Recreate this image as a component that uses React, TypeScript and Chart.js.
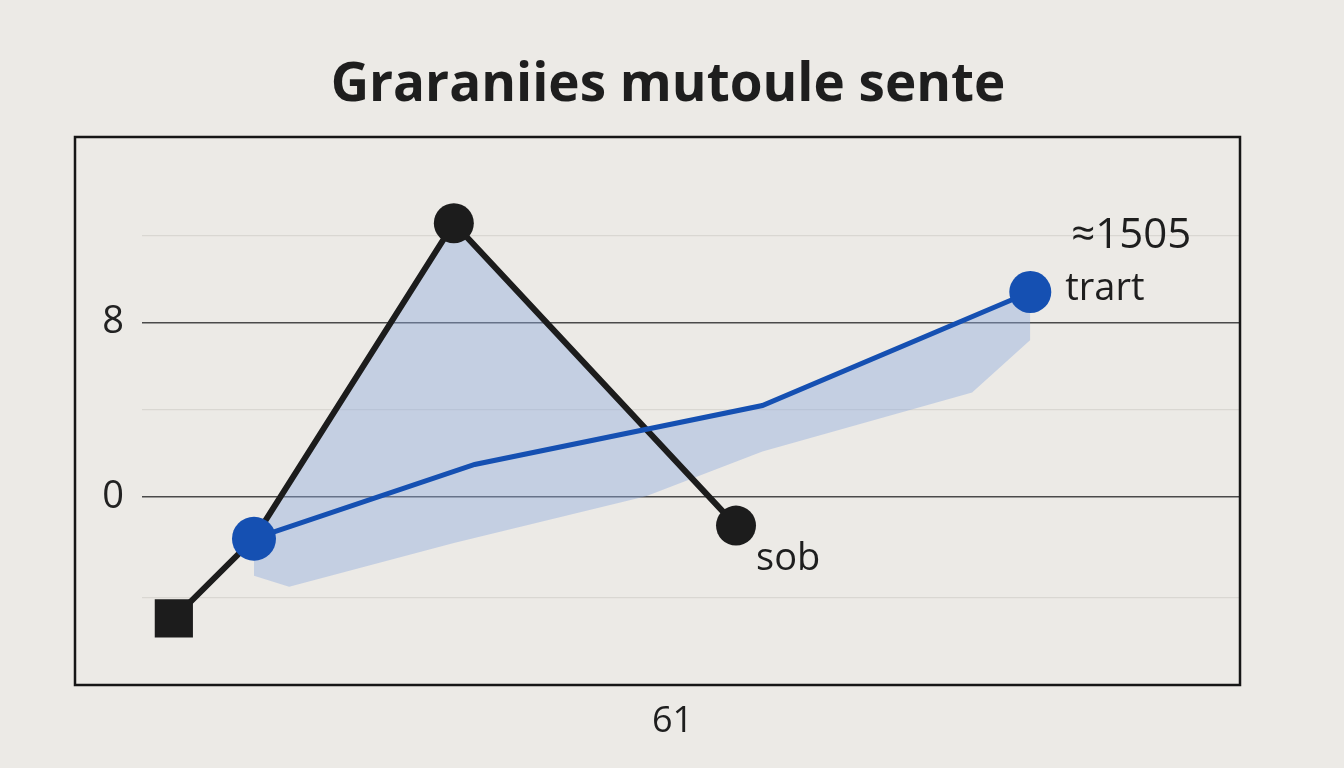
import React, { useEffect, useRef } from 'react';
import Chart from 'chart.js/auto';

const titleText = 'Graraniies mutoule sente';
const xAxisLabel = '61';

// black series (square start, hidden joint under blue marker, peak, end)
const blackX = [2.9, 10.2, 28.4, 54.1];
const blackY = [-5.55, -1.9, 12.55, -1.3];

// blue series
const blueX = [10.2, 30.3, 56.5, 80.9];
const blueY = [-1.9, 1.5, 4.2, 9.4];

// light blue shading band (upper and lower edge)
const shadeX = [10.2, 13.4, 28.4, 45.9, 56.5, 75.6, 80.9];
const shadeTop = [-1.9, 0.62, 12.5, 3.1, 4.2, 8.25, 9.4];
const shadeBottom = [-3.6, -4.1, -2.1, 0.05, 2.1, 4.8, 7.2];

const yTicks = [-4.6, 0, 4, 8, 12];
const yLabels = ['', '0', '', '8', ''];

const labelSob = 'sob';
const labelTrart = 'trart';
const labelValue = '≈1505';

const pts = (xs: number[], ys: number[]) => xs.map((x, i) => ({ x, y: ys[i] }));

const textPlugin = {
  id: 'textPlugin',
  afterDraw(chart: any) {
    const { ctx, chartArea, scales } = chart;
    const left = scales.y.left;
    ctx.save();
    // frame
    ctx.strokeStyle = '#161616';
    ctx.lineWidth = 2.5;
    ctx.strokeRect(left, chartArea.top, chartArea.right - left, chartArea.bottom - chartArea.top);

    ctx.fillStyle = '#1e1e1e';
    ctx.textBaseline = 'middle';
    ctx.font = 'bold 53px "Open Sans"';
    ctx.textAlign = 'center';
    ctx.fillText(titleText, 668, 86);

    ctx.font = '36px "Open Sans"';
    ctx.fillText(xAxisLabel, (left + chartArea.right) / 2 + 15, 722);

    ctx.textAlign = 'left';
    ctx.font = '38px "Open Sans"';
    const bx = scales.x.getPixelForValue(blackX[3]);
    const by = scales.y.getPixelForValue(blackY[3]);
    ctx.fillText(labelSob, bx + 20, by + 34);
    const tx = scales.x.getPixelForValue(blueX[3]);
    const ty = scales.y.getPixelForValue(blueY[3]);
    ctx.fillText(labelTrart, tx + 35, ty - 3);
    ctx.textAlign = 'center';
    ctx.font = '42px "Open Sans"';
    ctx.fillText(labelValue, tx + 101, ty - 56);
    ctx.restore();
  },
};

const LineChart: React.FC = () => {
  const chartRef = useRef<HTMLCanvasElement>(null);

  useEffect(() => {
    if (!chartRef.current) return;
    const chart = new Chart(chartRef.current, {
      type: 'line',
      data: {
        datasets: [
          {
            label: 'shade',
            data: pts(shadeX, shadeTop),
            borderWidth: 0,
            pointRadius: 0,
            backgroundColor: 'rgba(140,170,222,0.42)',
            fill: 1,
            order: 6,
          },
          {
            label: 'shadeBottom',
            data: pts(shadeX, shadeBottom),
            borderWidth: 0,
            pointRadius: 0,
            fill: false,
            order: 7,
          },
          {
            label: 'black',
            data: pts(blackX, blackY),
            borderColor: '#1c1c1c',
            borderWidth: 6,
            backgroundColor: '#1c1c1c',
            pointStyle: ['rect', 'circle', 'circle', 'circle'],
            pointRadius: [27, 0, 20, 20],
            pointBorderWidth: 0,
            fill: false,
            tension: 0,
            order: 4,
          },
          {
            label: 'blue',
            data: pts(blueX, blueY),
            borderColor: '#1550b2',
            borderWidth: 5,
            backgroundColor: '#1550b2',
            pointRadius: [22, 0, 0, 21],
            pointBorderWidth: 0,
            fill: false,
            tension: 0,
            order: 3,
          },
        ],
      },
      options: {
        animation: false,
        responsive: false,
        layout: { padding: { top: 137, left: 75, right: 104, bottom: 83 } },
        plugins: {
          legend: { display: false },
          tooltip: { enabled: false },
          title: { display: false },
        },
        scales: {
          x: {
            type: 'linear',
            min: 0,
            max: 100,
            display: false,
          },
          y: {
            min: -8.6,
            max: 16.5,
            afterBuildTicks: (axis: any) => {
              axis.ticks = yTicks.map((v) => ({ value: v }));
            },
            afterFit: (axis: any) => {
              axis.width = 67;
            },
            border: { display: false },
            grid: {
              drawTicks: false,
              color: (c: any) => (c.tick && (c.tick.value === 0 || c.tick.value === 8) ? '#4a4a4a' : '#d9d7d2'),
              lineWidth: (c: any) => (c.tick && (c.tick.value === 0 || c.tick.value === 8) ? 1.6 : 1.2),
            },
            ticks: {
              padding: 18,
              color: '#222',
              font: { family: 'Open Sans', size: 38 },
              callback: (_v: any, i: number) => yLabels[i],
            },
          },
        },
      },
      plugins: [textPlugin],
    });
    return () => chart.destroy();
  }, []);

  return <canvas ref={chartRef} width={1344} height={768} />;
};

export default function App() {
  return (
    <div style={{ position: 'absolute', left: 0, top: 0, width: 1344, height: 768, background: '#eceae6' }}>
      <LineChart />
    </div>
  );
}
